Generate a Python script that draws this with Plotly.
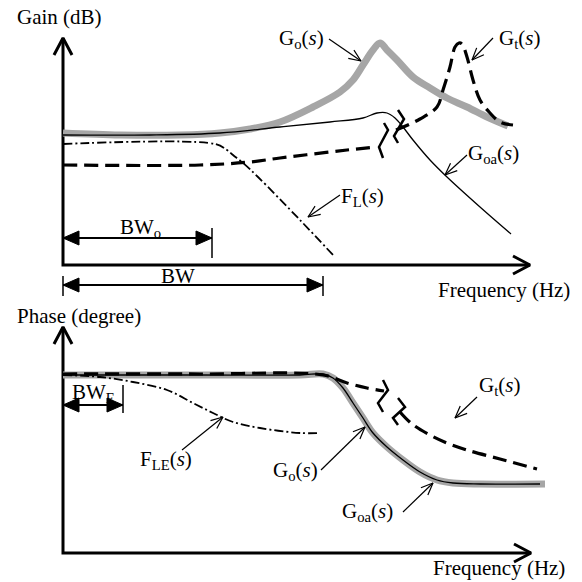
import math
import plotly.graph_objects as go

# ---------------- data (schematic curves, in drawing units) ----------------
# Gain panel
gain_Go_x = [63, 120, 180, 220, 250, 280, 313, 340, 353, 363, 373, 380, 387, 397, 413, 430, 447, 467, 487, 508]
gain_Go_y = [133, 135, 135, 133, 129, 122, 107, 92, 80, 65, 50, 43, 50, 60, 77, 88, 98, 107, 117, 126]

gain_Goa_x = [63, 150, 220, 280, 330, 363, 377, 387, 395, 403, 413, 430, 447, 480, 511]
gain_Goa_y = [135, 135, 133, 127, 122, 118, 113, 113, 118, 127, 140, 160, 177, 207, 234]

gain_Gt1_x = [63, 200, 250, 280, 313, 347, 376]
gain_Gt1_y = [165, 165, 162, 158, 154, 150, 147]
gain_Gt2_x = [396, 420, 437, 443, 450, 455, 459, 462, 467, 473, 480, 490, 500, 513]
gain_Gt2_y = [130, 119, 107, 90, 67, 47, 43, 44, 57, 80, 100, 113, 122, 125]

gain_FL_x = [63, 215, 227, 233, 243, 258, 300, 333]
gain_FL_y = [144, 144, 150, 155, 163, 177, 220, 255]

# Phase panel
ph_Go_x = [63, 200, 300, 323, 333, 343, 353, 363, 373, 387, 403, 420, 437, 453, 480, 545]
ph_Go_y = [375, 375, 375, 374, 378, 388, 403, 418, 433, 447, 460, 472, 480, 483, 484, 484]

ph_Goa_x = [63, 200, 300, 323, 333, 343, 353, 363, 373, 387, 403, 420, 437, 453, 480, 540]
ph_Goa_y = [375, 375, 375, 374, 378, 388, 403, 418, 433, 447, 460, 472, 480, 483, 484, 484]

ph_Gt1_x = [63, 200, 323, 347, 367, 384]
ph_Gt1_y = [374, 374, 375, 383, 388, 391]
ph_Gt2_x = [400, 412, 430, 447, 467, 500, 537]
ph_Gt2_y = [412, 424, 435, 443, 450, 459, 469]

ph_FLE_x = [63, 100, 133, 167, 193, 213, 233, 260, 300, 320]
ph_FLE_y = [375, 377, 382, 390, 403, 413, 422, 428, 433, 433]

# break glyphs (polylines)
gain_break = [([384, 388, 379, 383], [123, 130, 147, 158]), ([398, 404, 394, 398], [110, 119, 136, 143])]
ph_break = [([383, 388, 378, 383], [380, 390, 403, 412]), ([398, 405, 393, 398], [398, 407, 418, 425])]

# labels: (text, x, y)
labels = [
    ("G<sub>o</sub>(<i>s</i>)", 301, 39),
    ("G<sub>t</sub>(<i>s</i>)", 519, 39),
    ("G<sub>oa</sub>(<i>s</i>)", 493, 154),
    ("F<sub>L</sub>(<i>s</i>)", 362, 197),
    ("BW<sub>o</sub>", 140, 228),
    ("BW", 178, 276),
    ("BW<sub>E</sub>", 93, 393),
    ("F<sub>LE</sub>(<i>s</i>)", 166, 460),
    ("G<sub>o</sub>(<i>s</i>)", 295, 471),
    ("G<sub>oa</sub>(<i>s</i>)", 367, 512),
    ("G<sub>t</sub>(<i>s</i>)", 499, 386),
]
axis_titles = [
    ("Gain (dB)", 15, 17),
    ("Frequency (Hz)", 436, 290),
    ("Phase (degree)", 15, 316),
    ("Frequency (Hz)", 431, 568),
]
# pointer arrows: (x0, y0) -> (x1, y1)
pointers = [
    (329, 39, 361, 61), (493, 38, 472, 60), (467, 155, 445, 175), (340, 195, 308, 217),
    (182, 450, 223, 417), (321, 470, 365, 427), (403, 512, 433, 483), (477, 397, 455, 418),
]
# axes: origin and arrow tips
axes = [((63, 265), (63, 38), (530, 265)), ((63, 553), (63, 327), (531, 553))]
# bandwidth arrows: (x0, x1, y, tick_x list, tick_top, tick_bottom)
bw_arrows = [
    (63, 212, 238, [212], 228, 258),
    (63, 323, 285, [63, 323], 276, 296),
    (63, 123, 405, [123], 385, 413),
]

GRAY = "#a6a6a6"
FONT = "Liberation Serif, Times New Roman, serif"
FSIZE = 21

fig = go.Figure()


def add_line(xs, ys, color="black", width=1.5, dash=None, shape="linear"):
    ln = dict(color=color, width=width, shape=shape)
    if shape == "spline":
        ln["smoothing"] = 1.0
    if dash:
        ln["dash"] = dash
    fig.add_trace(go.Scatter(x=xs, y=ys, mode="lines", line=ln,
                             hoverinfo="skip", showlegend=False))


def head_pts(x0, y0, x1, y1, L, H):
    dx, dy = x1 - x0, y1 - y0
    d = math.hypot(dx, dy)
    ux, uy = dx / d, dy / d
    nx, ny = -uy, ux
    bx, by = x1 - L * ux, y1 - L * uy
    return (bx + H * nx, by + H * ny), (bx - H * nx, by - H * ny)


def open_arrow(x0, y0, x1, y1, L=12, H=5, width=1.2):
    add_line([x0, x1], [y0, y1], width=width)
    a, b = head_pts(x0, y0, x1, y1, L, H)
    add_line([a[0], x1, b[0]], [a[1], y1, b[1]], width=width)


def filled_head(x0, y0, x1, y1, L=16, H=7):
    a, b = head_pts(x0, y0, x1, y1, L, H)
    fig.add_trace(go.Scatter(x=[a[0], x1, b[0], a[0]], y=[a[1], y1, b[1], a[1]],
                             mode="lines", fill="toself", fillcolor="black",
                             line=dict(color="black", width=1), hoverinfo="skip",
                             showlegend=False))


# axes
for (ox, oy), (tx, ty), (rx, ry) in axes:
    add_line([tx, ox, rx], [ty, oy, ry], width=3)
    a, b = head_pts(ox, oy, tx, ty, 17, 9)
    add_line([a[0], tx, b[0]], [a[1], ty, b[1]], width=3)
    a, b = head_pts(ox, oy, rx, ry, 17, 9)
    add_line([a[0], rx, b[0]], [a[1], ry, b[1]], width=3)

# gain curves
add_line(gain_Go_x, gain_Go_y, color=GRAY, width=7, shape="spline")
add_line(gain_Goa_x, gain_Goa_y, width=1.3, shape="spline")
add_line(gain_Gt1_x, gain_Gt1_y, width=3.2, dash="14px,7px", shape="spline")
add_line(gain_Gt2_x, gain_Gt2_y, width=3.2, dash="14px,7px", shape="spline")
add_line(gain_FL_x, gain_FL_y, width=1.8, dash="9px,3px,2px,3px", shape="spline")
for bx, by in gain_break:
    add_line(bx, by, width=2.5)

# phase curves
add_line(ph_Go_x, ph_Go_y, color=GRAY, width=7, shape="spline")
add_line(ph_Goa_x, ph_Goa_y, width=1.3, shape="spline")
add_line(ph_Gt1_x, ph_Gt1_y, width=3.2, dash="14px,7px", shape="spline")
add_line(ph_Gt2_x, ph_Gt2_y, width=3.2, dash="14px,7px", shape="spline")
add_line(ph_FLE_x, ph_FLE_y, width=1.8, dash="9px,3px,2px,3px", shape="spline")
for bx, by in ph_break:
    add_line(bx, by, width=2.5)

# bandwidth arrows
for x0, x1, y, ticks, t0, t1 in bw_arrows:
    add_line([x0, x1], [y, y], width=2)
    filled_head(x1, y, x0, y)
    filled_head(x0, y, x1, y)
    for tx in ticks:
        add_line([tx, tx], [t0, t1], width=1.5)

# pointer arrows
for x0, y0, x1, y1 in pointers:
    open_arrow(x0, y0, x1, y1)

annotations = []
for txt, x, y in labels:
    annotations.append(dict(text=txt, x=x, y=y, xref="x", yref="y", showarrow=False,
                            xanchor="center", yanchor="middle",
                            font=dict(family=FONT, size=FSIZE, color="black")))
for txt, x, y in axis_titles:
    annotations.append(dict(text=txt, x=x, y=y, xref="x", yref="y", showarrow=False,
                            xanchor="left", yanchor="middle",
                            font=dict(family=FONT, size=FSIZE, color="black")))

fig.update_layout(
    width=582, height=582,
    margin=dict(l=0, r=0, t=0, b=0),
    paper_bgcolor="white", plot_bgcolor="white",
    font=dict(family=FONT, size=FSIZE, color="black"),
    xaxis=dict(range=[0, 582], visible=False, fixedrange=True),
    yaxis=dict(range=[582, 0], visible=False, fixedrange=True),
    annotations=annotations,
    showlegend=False,
)

fig.write_html("out.html", config={"displayModeBar": False},
               post_script="document.body.style.margin='0';document.body.style.overflow='hidden';")
